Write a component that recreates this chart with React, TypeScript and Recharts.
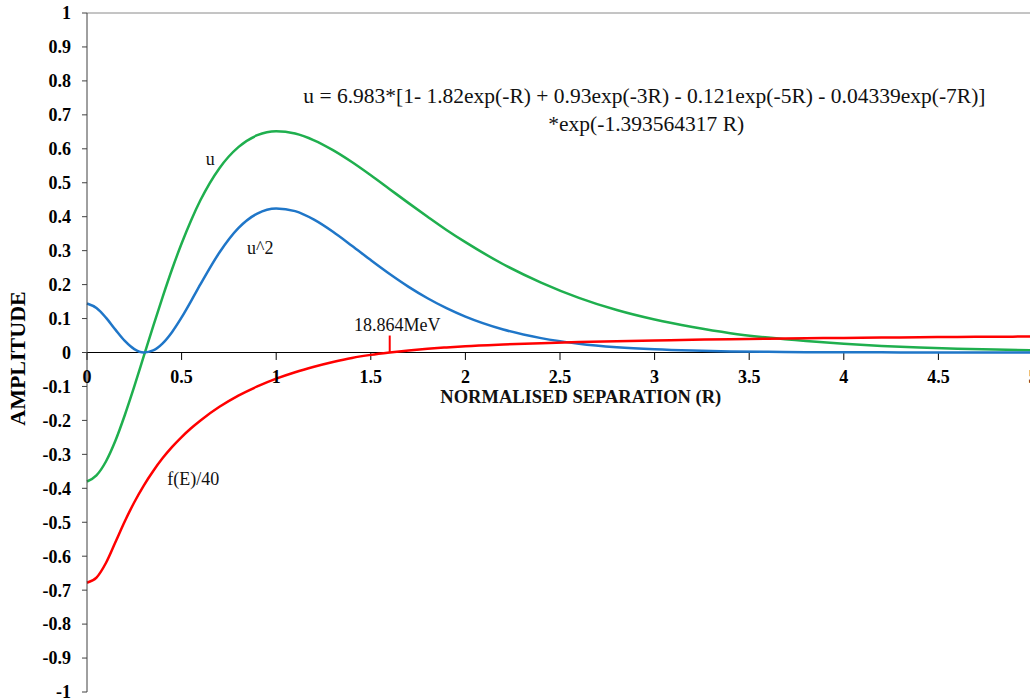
import React from 'react';
import { LineChart, Line, XAxis, YAxis, ReferenceLine, ReferenceDot } from 'recharts';

// normalised separation R and the three curves
const R_VALUES = [
  0, 0.05, 0.1, 0.15, 0.2, 0.25, 0.3, 0.35, 0.4, 0.45, 0.5, 0.55, 0.6,
  0.7, 0.8, 0.9, 1.0, 1.1, 1.2, 1.3, 1.4, 1.5, 1.6, 1.7, 1.8, 1.9, 2.0,
  2.2, 2.4, 2.6, 2.8, 3.0, 3.2, 3.4, 3.6, 3.8, 4.0, 4.2, 4.4, 4.6, 4.8, 5.0,
];
const U_VALUES = [
  -0.38, -0.362, -0.321, -0.26, -0.184, -0.1, -0.011, 0.078, 0.164, 0.246, 0.321, 0.389, 0.449,
  0.543, 0.605, 0.64, 0.652, 0.645, 0.625, 0.596, 0.561, 0.522, 0.481, 0.44, 0.4, 0.361, 0.325,
  0.26, 0.206, 0.161, 0.125, 0.097, 0.075, 0.057, 0.044, 0.034, 0.026, 0.0195, 0.0148, 0.0113, 0.0086, 0.0065,
];
const U2_VALUES = [
  0.1443, 0.1311, 0.1028, 0.0674, 0.034, 0.01, 0.0001, 0.0061, 0.027, 0.0606, 0.1033, 0.1514, 0.2012,
  0.2945, 0.3662, 0.4093, 0.4245, 0.4163, 0.3912, 0.3556, 0.3145, 0.2721, 0.2312, 0.1934, 0.1598, 0.1306, 0.1057,
  0.0677, 0.0424, 0.026, 0.0157, 0.0094, 0.0056, 0.0033, 0.0019, 0.0011, 0.0007, 0.0004, 0.0002, 0.0001, 0.0001, 0,
];
const FE_VALUES = [
  -0.678, -0.663, -0.62, -0.559, -0.497, -0.441, -0.392, -0.349, -0.311, -0.278, -0.249, -0.223, -0.2,
  -0.16, -0.127, -0.1, -0.077, -0.058, -0.042, -0.028, -0.016, -0.007, 0, 0.006, 0.011, 0.015, 0.0185,
  0.0235, 0.0275, 0.031, 0.0335, 0.0355, 0.0375, 0.039, 0.0405, 0.0418, 0.043, 0.044, 0.045, 0.0458, 0.0465, 0.047,
];

const X_TICKS = [0, 0.5, 1, 1.5, 2, 2.5, 3, 3.5, 4, 4.5, 5];
const Y_TICKS = [
  -1, -0.9, -0.8, -0.7, -0.6, -0.5, -0.4, -0.3, -0.2, -0.1, 0,
  0.1, 0.2, 0.3, 0.4, 0.5, 0.6, 0.7, 0.8, 0.9, 1,
];

const ZERO_ENERGY_R = 1.6;

const SERIF = "'Liberation Serif', 'Times New Roman', serif";
const GREEN = '#1FAF4E';
const BLUE = '#1F76C8';
const RED = '#FF0000';

const data = R_VALUES.map((r, i) => ({
  r,
  u: U_VALUES[i],
  u2: U2_VALUES[i],
  fe: FE_VALUES[i],
}));

const AmplitudeLabel = (props: any) => {
  const vb = props.viewBox || { x: 0, y: 13, width: 87, height: 679 };
  const cx = vb.x + 17;
  const cy = vb.y + vb.height / 2 + 6;
  return (
    <text
      x={cx}
      y={cy}
      transform={`rotate(-90 ${cx} ${cy})`}
      textAnchor="middle"
      dominantBaseline="central"
      fontFamily={SERIF}
      fontWeight="bold"
      fontSize={22}
      fill="#000"
    >
      AMPLITUDE
    </text>
  );
};

const note = (value: string, size = 18, bold = false) => ({
  value,
  position: 'center' as const,
  fill: '#111',
  fontSize: size,
  fontFamily: SERIF,
  fontWeight: bold ? 'bold' : 'normal',
});

export default function App() {
  return (
    <div
      style={{
        position: 'fixed',
        left: 0,
        top: 0,
        width: 1030,
        height: 700,
        overflow: 'hidden',
        background: '#fff',
      }}
    >
      <LineChart
        width={1040}
        height={700}
        data={data}
        margin={{ top: 13, right: 7, bottom: 8, left: 0 }}
      >
        <XAxis dataKey="r" type="number" domain={[0, 5]} ticks={X_TICKS} hide />
        <YAxis
          type="number"
          domain={[-1, 1]}
          ticks={Y_TICKS}
          interval={0}
          width={87}
          axisLine={{ stroke: '#404040' }}
          tickLine={{ stroke: '#404040' }}
          tickSize={5}
          tickMargin={11}
          tick={{ fill: '#000', fontSize: 18, fontWeight: 'bold', fontFamily: SERIF }}
          label={{ content: AmplitudeLabel }}
        />
        <ReferenceLine y={1} stroke="#8a8a8a" />
        <ReferenceLine y={0} stroke="#000" />
        {X_TICKS.map((t) => (
          <ReferenceLine
            key={`xt-${t}`}
            segment={[
              { x: t, y: 0 },
              { x: t, y: -0.022 },
            ]}
            stroke="#000"
            label={{
              value: String(t),
              position: 'bottom',
              offset: 10,
              fill: '#000',
              fontSize: 18,
              fontWeight: 'bold',
              fontFamily: SERIF,
            }}
          />
        ))}
        <ReferenceLine
          segment={[
            { x: ZERO_ENERGY_R, y: 0 },
            { x: ZERO_ENERGY_R, y: 0.05 },
          ]}
          stroke={RED}
          strokeWidth={2}
        />
        <Line type="monotone" dataKey="u" stroke={GREEN} strokeWidth={2.5} dot={false} isAnimationActive={false} />
        <Line type="monotone" dataKey="u2" stroke={BLUE} strokeWidth={2.5} dot={false} isAnimationActive={false} />
        <Line type="monotone" dataKey="fe" stroke={RED} strokeWidth={2.5} dot={false} isAnimationActive={false} />
        <ReferenceDot x={2.61} y={-0.13} r={0} fill="none" stroke="none" label={note('NORMALISED SEPARATION (R)', 18.5, true)} />
        <ReferenceDot x={1.64} y={0.083} r={0} fill="none" stroke="none" label={note('18.864MeV')} />
        <ReferenceDot x={0.652} y={0.572} r={0} fill="none" stroke="none" label={note('u')} />
        <ReferenceDot x={0.916} y={0.31} r={0} fill="none" stroke="none" label={note('u^2')} />
        <ReferenceDot x={0.562} y={-0.372} r={0} fill="none" stroke="none" label={note('f(E)/40')} />
        <ReferenceDot
          x={2.946}
          y={0.758}
          r={0}
          fill="none"
          stroke="none"
          label={note('u = 6.983*[1- 1.82exp(-R) + 0.93exp(-3R) - 0.121exp(-5R) - 0.04339exp(-7R)]', 21.5)}
        />
        <ReferenceDot x={2.956} y={0.676} r={0} fill="none" stroke="none" label={note('*exp(-1.393564317 R)', 21.5)} />
      </LineChart>
    </div>
  );
}
